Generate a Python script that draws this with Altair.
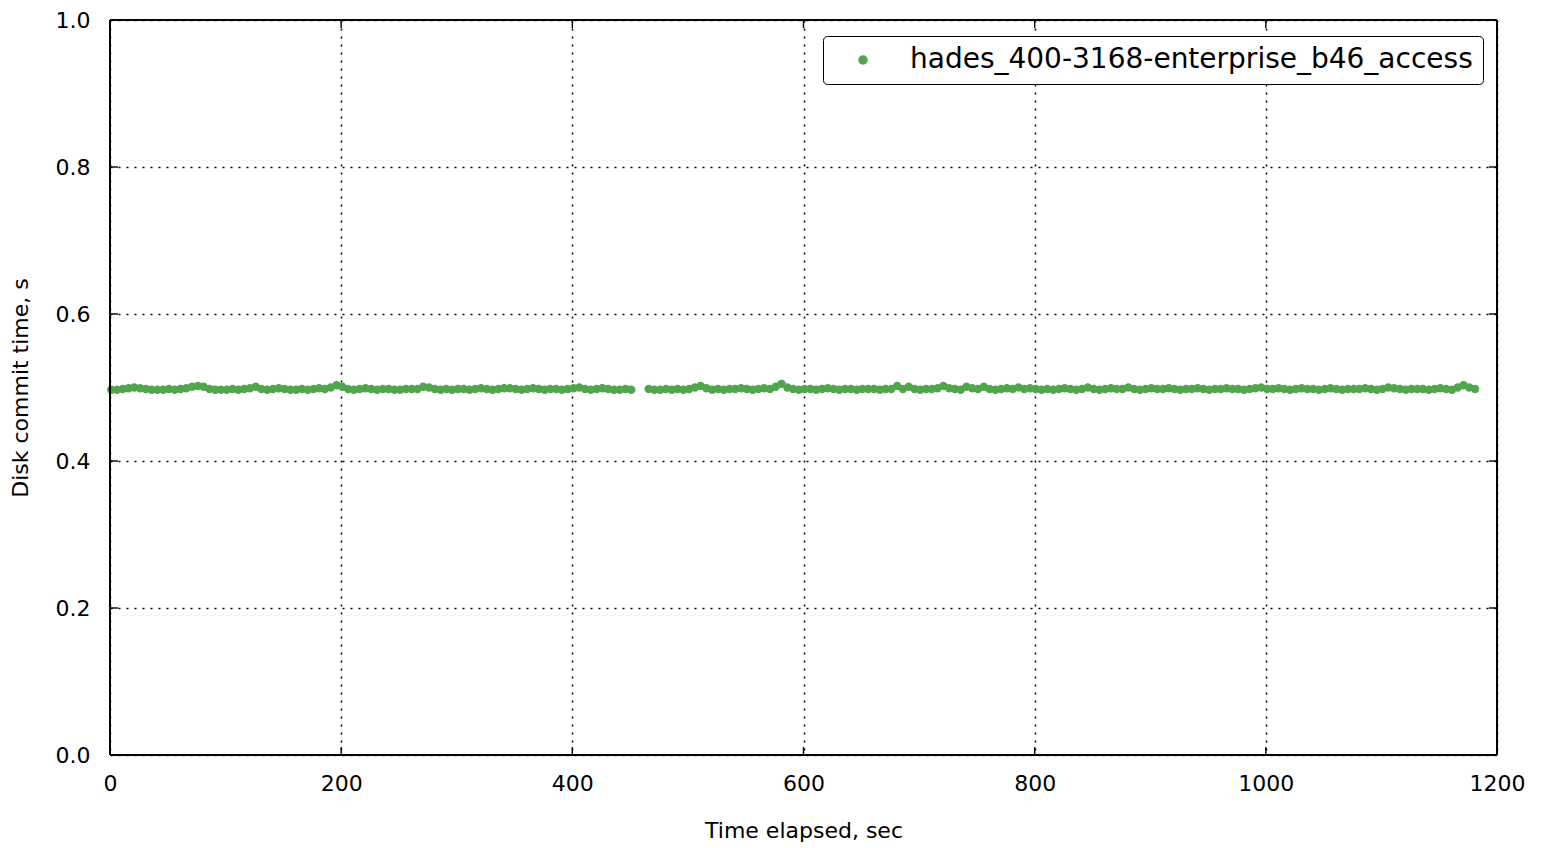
import altair as alt
import pandas as pd

SERIES = "hades_400-3168-enterprise_b46_access"
GREEN = "#4fa64c"

# --- sample times (sec) and disk commit times (s) ---
times_a = [
    1, 6, 11, 16, 21, 26, 31, 36, 41, 46,
    51, 56, 61, 66, 71, 76, 81, 86, 91, 96,
    101, 106, 111, 116, 121, 126, 131, 136, 141, 146,
    151, 156, 161, 166, 171, 176, 181, 186, 191, 196,
    201, 206, 211, 216, 221, 226, 231, 236, 241, 246,
    251, 256, 261, 266, 271, 276, 281, 286, 291, 296,
    301, 306, 311, 316, 321, 326, 331, 336, 341, 346,
    351, 356, 361, 366, 371, 376, 381, 386, 391, 396,
    401, 406, 411, 416, 421, 426, 431, 436, 441, 446,
    451,
]
values_a = [
    0.497, 0.497, 0.498, 0.499, 0.500, 0.499, 0.498, 0.497, 0.497, 0.497,
    0.498, 0.497, 0.498, 0.499, 0.501, 0.502, 0.501, 0.498, 0.497, 0.497,
    0.497, 0.498, 0.497, 0.498, 0.499, 0.501, 0.498, 0.497, 0.498, 0.499,
    0.498, 0.497, 0.497, 0.498, 0.497, 0.498, 0.499, 0.498, 0.500, 0.503,
    0.501, 0.498, 0.497, 0.498, 0.499, 0.498, 0.497, 0.498, 0.498, 0.497,
    0.497, 0.498, 0.498, 0.498, 0.501, 0.500, 0.498, 0.497, 0.498, 0.497,
    0.498, 0.498, 0.497, 0.498, 0.499, 0.498, 0.497, 0.498, 0.499, 0.499,
    0.498, 0.497, 0.498, 0.499, 0.498, 0.497, 0.498, 0.498, 0.497, 0.498,
    0.499, 0.500, 0.498, 0.497, 0.498, 0.499, 0.498, 0.497, 0.497, 0.498,
    0.497,
]
times_b = [
    466, 471, 476, 481, 486, 491, 496, 501, 506, 511,
    516, 521, 526, 531, 536, 541, 546, 551, 556, 561,
    566, 571, 576, 581, 586, 591, 596, 601, 606, 611,
    616, 621, 626, 631, 636, 641, 646, 651, 656, 661,
    666, 671, 676, 681, 686, 691, 696, 701, 706, 711,
    716, 721, 726, 731, 736, 741, 746, 751, 756, 761,
    766, 771, 776, 781, 786, 791, 796, 801, 806, 811,
    816, 821, 826, 831, 836, 841, 846, 851, 856, 861,
    866, 871, 876, 881, 886, 891, 896, 901, 906, 911,
    916, 921, 926, 931, 936, 941, 946, 951, 956, 961,
    966, 971, 976, 981, 986, 991, 996, 1001, 1006, 1011,
    1016, 1021, 1026, 1031, 1036, 1041, 1046, 1051, 1056, 1061,
    1066, 1071, 1076, 1081, 1086, 1091, 1096, 1101, 1106, 1111,
    1116, 1121, 1126, 1131, 1136, 1141, 1146, 1151, 1156, 1161,
    1166, 1171, 1176, 1181,
]
values_b = [
    0.498, 0.497, 0.497, 0.498, 0.497, 0.498, 0.497, 0.498, 0.500, 0.502,
    0.499, 0.497, 0.498, 0.497, 0.498, 0.498, 0.499, 0.498, 0.497, 0.498,
    0.499, 0.498, 0.501, 0.505, 0.500, 0.498, 0.497, 0.498, 0.498, 0.497,
    0.498, 0.499, 0.498, 0.497, 0.498, 0.498, 0.497, 0.498, 0.498, 0.498,
    0.497, 0.498, 0.498, 0.502, 0.498, 0.501, 0.498, 0.497, 0.498, 0.498,
    0.499, 0.502, 0.499, 0.498, 0.497, 0.501, 0.499, 0.498, 0.501, 0.498,
    0.497, 0.498, 0.499, 0.498, 0.500, 0.498, 0.499, 0.498, 0.497, 0.498,
    0.497, 0.498, 0.499, 0.498, 0.497, 0.498, 0.500, 0.498, 0.497, 0.498,
    0.499, 0.498, 0.498, 0.500, 0.498, 0.497, 0.498, 0.499, 0.498, 0.498,
    0.499, 0.498, 0.497, 0.498, 0.498, 0.499, 0.498, 0.497, 0.498, 0.498,
    0.499, 0.498, 0.498, 0.497, 0.498, 0.499, 0.500, 0.498, 0.498, 0.499,
    0.498, 0.497, 0.498, 0.499, 0.498, 0.498, 0.497, 0.498, 0.499, 0.498,
    0.497, 0.498, 0.498, 0.498, 0.499, 0.498, 0.497, 0.498, 0.500, 0.499,
    0.498, 0.497, 0.498, 0.498, 0.498, 0.497, 0.498, 0.499, 0.498, 0.497,
    0.500, 0.503, 0.500, 0.498,
]

x_ticks = [0, 200, 400, 600, 800, 1000, 1200]
y_ticks = [0.0, 0.2, 0.4, 0.6, 0.8, 1.0]

W, H = 1387, 735
FONT = "DejaVu Sans"

df = pd.DataFrame({
    "t": times_a + times_b,
    "v": values_a + values_b,
    "series": [SERIES] * (len(times_a) + len(times_b)),
})
xt = pd.DataFrame({"x": x_ticks})
yt = pd.DataFrame({"y": y_ticks})

xscale = alt.Scale(domain=[0, 1200], nice=False, zero=False)
yscale = alt.Scale(domain=[0, 1.0], nice=False, zero=False)

x_enc = alt.X(
    "t:Q", scale=xscale, title="Time elapsed, sec",
    axis=alt.Axis(values=x_ticks, format="d", grid=True, gridColor="black",
                  gridDash=[2, 6], gridWidth=1.5, gridOpacity=1,
                  domain=False, ticks=False, labelPadding=18, labelFlush=False,
                  labelFontSize=22, labelFont=FONT, labelColor="black",
                  titleFontSize=22, titleFont=FONT, titleFontWeight="normal",
                  titleColor="black", titlePadding=26),
)
y_enc = alt.Y(
    "v:Q", scale=yscale, title="Disk commit time, s",
    axis=alt.Axis(values=y_ticks, format=".1f", grid=True, gridColor="black",
                  gridDash=[2, 6], gridWidth=1.5, gridOpacity=1,
                  domain=False, ticks=False, labelPadding=20, labelFlush=False,
                  labelFontSize=22, labelFont=FONT, labelColor="black",
                  titleFontSize=22, titleFont=FONT, titleFontWeight="normal",
                  titleColor="black", titlePadding=23),
)

points = alt.Chart(df).mark_circle(size=70, opacity=1).encode(
    x=x_enc,
    y=y_enc,
    color=alt.Color(
        "series:N",
        scale=alt.Scale(domain=[SERIES], range=[GREEN]),
        legend=alt.Legend(
            title=None, orient="none", legendX=713, legendY=16,
            strokeColor="black", fillColor="white", cornerRadius=4,
            padding=10, symbolType="circle", symbolSize=90,
            symbolOffset=16, labelOffset=33, labelFontSize=28,
            labelFont=FONT, labelColor="black", labelLimit=900,
        ),
    ),
)

tick_len = 8
xs = alt.X("x:Q", scale=xscale)
ys = alt.Y("y:Q", scale=yscale)
ticks_bottom = alt.Chart(xt).mark_rule(color="black", strokeWidth=1.4).encode(
    x=xs, y=alt.value(H), y2=alt.value(H - tick_len))
ticks_top = alt.Chart(xt).mark_rule(color="black", strokeWidth=1.4).encode(
    x=xs, y=alt.value(0), y2=alt.value(tick_len))
ticks_left = alt.Chart(yt).mark_rule(color="black", strokeWidth=1.4).encode(
    y=ys, x=alt.value(0), x2=alt.value(tick_len))
ticks_right = alt.Chart(yt).mark_rule(color="black", strokeWidth=1.4).encode(
    y=ys, x=alt.value(W), x2=alt.value(W - tick_len))

frame_w = 1.8
frame_left = alt.Chart(xt).mark_rule(color="black", strokeWidth=frame_w).encode(
    x=alt.value(0), y=alt.value(0), y2=alt.value(H))
frame_right = alt.Chart(xt).mark_rule(color="black", strokeWidth=frame_w).encode(
    x=alt.value(W), y=alt.value(0), y2=alt.value(H))
frame_top = alt.Chart(xt).mark_rule(color="black", strokeWidth=frame_w).encode(
    y=alt.value(0), x=alt.value(0), x2=alt.value(W))
frame_bottom = alt.Chart(xt).mark_rule(color="black", strokeWidth=frame_w).encode(
    y=alt.value(H), x=alt.value(0), x2=alt.value(W))

chart = alt.layer(
    points, ticks_bottom, ticks_top, ticks_left, ticks_right,
    frame_left, frame_right, frame_top, frame_bottom,
).properties(
    width=W, height=H,
    autosize=alt.AutoSizeParams(type="none"),
    padding={"left": 102, "top": 12, "right": 30, "bottom": 90},
).configure_view(
    stroke="black", strokeWidth=1.6
).configure(background="white")

chart.save("out.html", embed_options={"renderer": "svg", "actions": False})
